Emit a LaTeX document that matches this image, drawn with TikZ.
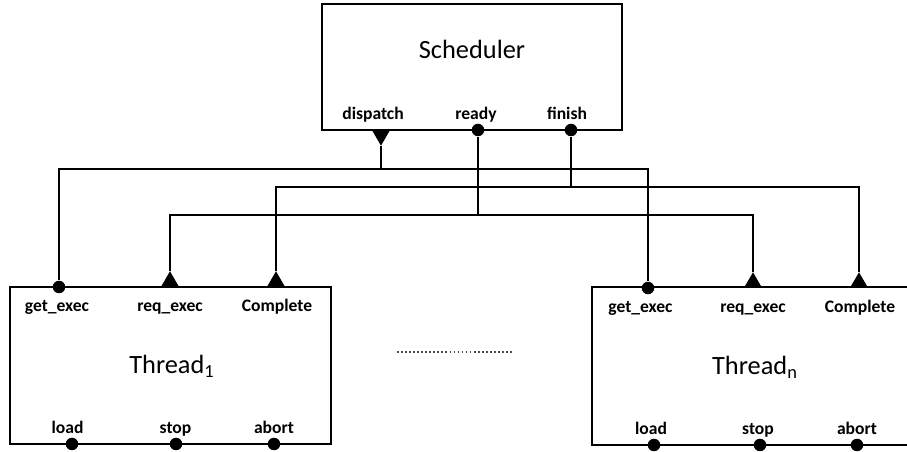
\documentclass[tikz,border=0pt]{standalone}
\usepackage{fontspec}
\setmainfont{Carlito}
\usepackage{tikz}
\usetikzlibrary{shapes.geometric,positioning}

\begin{document}
\begin{tikzpicture}[x=0.02cm, y=-0.02cm, line width=1.1pt,
    sched/.style={rectangle, draw, minimum width=6cm, minimum height=2.52cm, inner sep=0},
    thread/.style={rectangle, draw, minimum width=6.42cm, minimum height=3.14cm, inner sep=0},
    title/.style={font=\fontsize{15}{18}\selectfont, anchor=base},
    port/.style={font=\fontsize{10}{12}\selectfont\bfseries, inner sep=1pt, anchor=base},
    inport/.style={circle, fill=black, minimum size=0.25cm, inner sep=0},
    outport/.style={regular polygon, regular polygon sides=3, fill=black, minimum size=0.42cm, inner sep=0, outer sep=0}
]
    \useasboundingbox (0,0) rectangle (907,452);
    \clip (0,0) rectangle (907,452);

    \node[sched] (scheduler) at (472,67) {};
    \node[title] (schedname) at (472,59) {Scheduler};
    \node[port] (dispatchlbl) at (373,120) {dispatch};
    \node[port] (readylbl) at (476,120) {ready};
    \node[port] (finishlbl) at (567,120) {finish};
    \node[outport, shape border rotate=180, anchor=side 2] (dispatch) at (381,130) {};
    \node[inport] (ready) at (478,130) {};
    \node[inport] (finish) at (571,130) {};

    \node[thread] (thread1) at (170.5,365.5) {};
    \node[title] (thread1name) at (172,374) {Thread\textsubscript{1}};
    \node[port] (get1lbl) at (57,312) {get\_exec};
    \node[port] (req1lbl) at (170,312) {req\_exec};
    \node[port] (comp1lbl) at (277,312) {Complete};
    \node[port] (load1lbl) at (67.5,434) {load};
    \node[port] (stop1lbl) at (175.5,434) {stop};
    \node[port] (abort1lbl) at (274,434) {abort};
    \node[inport] (get1) at (59,287) {};
    \node[outport, anchor=side 2] (req1) at (170,287) {};
    \node[outport, anchor=side 2] (comp1) at (276,287) {};
    \node[inport] (load1) at (72,444) {};
    \node[inport] (stop1) at (176,444) {};
    \node[inport] (abort1) at (274,444) {};

    % right edge of this box lies past the page
    \node[thread, draw=none] (threadn) at (753.5,366) {};
    \draw (threadn.north east) -- (threadn.north west) -- (threadn.south west) -- (threadn.south east);
    \node[title] (threadnname) at (755,375) {Thread\textsubscript{n}};
    \node[port] (getnlbl) at (640.5,313) {get\_exec};
    \node[port] (reqnlbl) at (753,313) {req\_exec};
    \node[port] (compnlbl) at (860,313) {Complete};
    \node[port] (loadnlbl) at (651,435) {load};
    \node[port] (stopnlbl) at (758,435) {stop};
    \node[port] (abortnlbl) at (857,435) {abort};
    \node[inport] (getn) at (648,288) {};
    \node[outport, anchor=side 2] (reqn) at (753,288) {};
    \node[outport, anchor=side 2] (compn) at (859,288) {};
    \node[inport] (loadn) at (654,445) {};
    \node[inport] (stopn) at (760,445) {};
    \node[inport] (abortn) at (857,445) {};

    \draw[gray!60!black, line width=1pt, dash pattern=on 1pt off 1.3pt] (397,352) -- (513,352);

    \coordinate (dbus) at (381,169);
    \coordinate (fbus) at (571,187);
    \coordinate (rbus) at (478,215);

    \draw (dispatch) -- (dbus);
    \draw (get1) |- (dbus) -| (getn);
    \draw (finish) -- (fbus);
    \draw (comp1) |- (fbus) -| (compn);
    \draw (ready) -- (rbus);
    \draw (req1) |- (rbus) -| (reqn);
\end{tikzpicture}
\end{document}
